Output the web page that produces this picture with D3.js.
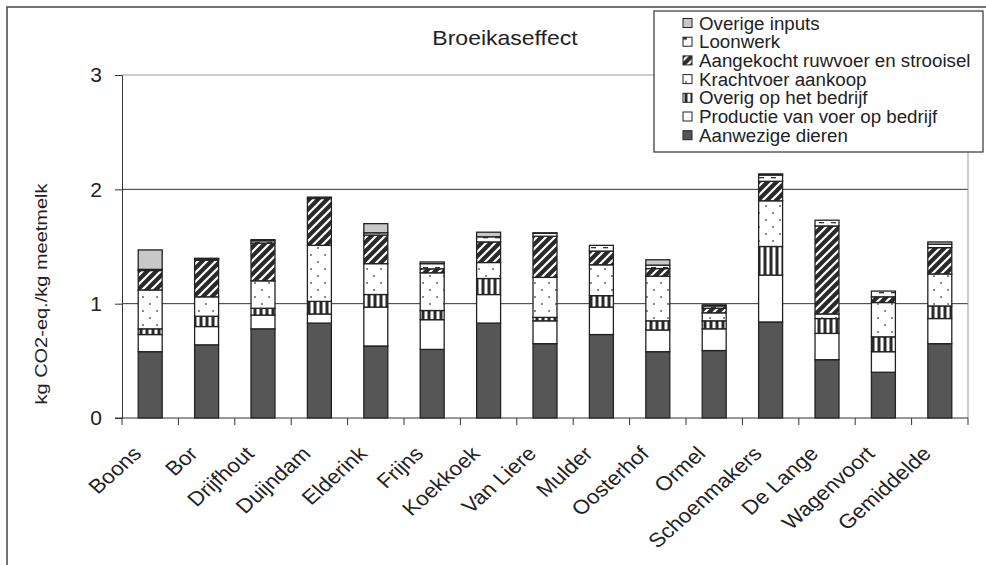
<!DOCTYPE html>
<html>
<head>
<meta charset="utf-8">
<script src="https://cdn.jsdelivr.net/npm/d3@7"></script>
<style>
html,body{margin:0;padding:0;background:#fff;}
svg{display:block;font-family:"Liberation Sans",Arial,sans-serif;}
</style>
</head>
<body>
<svg id="chart" width="986" height="565"></svg>
<script>
const categories = ["Boons","Bor","Drijfhout","Duijndam","Elderink","Frijns","Koekkoek","Van Liere","Mulder","Oosterhof","Ormel","Schoenmakers","De Lange","Wagenvoort","Gemiddelde"];
const aanwezigeDieren   = [0.58,0.64,0.78,0.83,0.63,0.60,0.83,0.65,0.73,0.58,0.59,0.84,0.51,0.40,0.65];
const productieVoer     = [0.15,0.16,0.12,0.08,0.34,0.26,0.25,0.20,0.24,0.19,0.19,0.41,0.23,0.18,0.22];
const overigBedrijf     = [0.05,0.09,0.06,0.11,0.11,0.08,0.14,0.03,0.10,0.08,0.07,0.25,0.13,0.13,0.11];
const krachtvoer        = [0.34,0.17,0.24,0.49,0.27,0.33,0.14,0.35,0.27,0.39,0.07,0.40,0.04,0.30,0.28];
const ruwvoer           = [0.17,0.32,0.33,0.41,0.25,0.035,0.18,0.36,0.12,0.067,0.04,0.17,0.77,0.05,0.23];
const loonwerk          = [0.01,0.012,0.02,0.012,0.02,0.045,0.045,0.025,0.05,0.03,0.02,0.055,0.05,0.05,0.03];
const overigeInputs     = [0.17,0.005,0.01,0,0.08,0.015,0.04,0.005,0,0.047,0.01,0.01,0,0,0.02];
const seriesNames = ["Aanwezige dieren","Productie van voer op bedrijf","Overig op het bedrijf","Krachtvoer aankoop","Aangekocht ruwvoer en strooisel","Loonwerk","Overige inputs"];
const yTicks = [0,1,2,3];
const titleText = "Broeikaseffect";
const yLabel = "kg CO2-eq./kg meetmelk";

const seriesValues = [aanwezigeDieren, productieVoer, overigBedrijf, krachtvoer, ruwvoer, loonwerk, overigeInputs];
const rows = categories.map((c,i)=>{
  const r = {cat:c};
  seriesNames.forEach((s,k)=>{ r[s] = seriesValues[k][i]; });
  return r;
});

const svg = d3.select("#chart");
const defs = svg.append("defs");
const ph = defs.append("pattern").attr("id","p-hatch").attr("patternUnits","userSpaceOnUse").attr("width",9).attr("height",9);
ph.append("rect").attr("width",9).attr("height",9).attr("fill","#2a2a2a");
ph.append("path").attr("d","M-2,2 L2,-2 M0,9 L9,0 M7,11 L11,7").attr("stroke","#fff").attr("stroke-width",2.2);
const pv = defs.append("pattern").attr("id","p-vert").attr("patternUnits","userSpaceOnUse").attr("width",6).attr("height",6);
pv.append("rect").attr("width",6).attr("height",6).attr("fill","#fff");
pv.append("rect").attr("x",1.5).attr("width",3).attr("height",6).attr("fill","#2a2a2a");
const pd = defs.append("pattern").attr("id","p-dots").attr("patternUnits","userSpaceOnUse").attr("width",14).attr("height",14);
pd.append("rect").attr("width",14).attr("height",14).attr("fill","#fff");
pd.append("circle").attr("cx",3).attr("cy",3).attr("r",0.9).attr("fill","#555");
pd.append("circle").attr("cx",10).attr("cy",10).attr("r",0.9).attr("fill","#555");
const pl = defs.append("pattern").attr("id","p-loon").attr("patternUnits","userSpaceOnUse").attr("width",12).attr("height",5);
pl.append("rect").attr("width",12).attr("height",5).attr("fill","#fff");
pl.append("rect").attr("x",3).attr("y",2).attr("width",5).attr("height",1.3).attr("fill","#333");
const pli = defs.append("pattern").attr("id","p-loon-icon").attr("patternUnits","objectBoundingBox").attr("width",1).attr("height",1);
pli.append("rect").attr("width",9).attr("height",9).attr("fill","#fff");
pli.append("rect").attr("x",0).attr("y",0).attr("width",4).attr("height",2.5).attr("fill","#333");

const fills = {
  "Aanwezige dieren":"#565656",
  "Productie van voer op bedrijf":"#ffffff",
  "Overig op het bedrijf":"url(#p-vert)",
  "Krachtvoer aankoop":"url(#p-dots)",
  "Aangekocht ruwvoer en strooisel":"url(#p-hatch)",
  "Loonwerk":"url(#p-loon)",
  "Overige inputs":"#c8c8c8"
};

svg.append("rect").attr("x",7).attr("y",7).attr("width",1000).attr("height",600)
  .attr("fill","none").attr("stroke","#444").attr("stroke-width",1.5);

const pLeft=122, pRight=968, pTop=75, pBottom=418;
const y = d3.scaleLinear().domain([0,3]).range([pBottom, pTop]);
const x = d3.scaleBand().domain(categories).range([pLeft,pRight]).paddingInner(0.575).paddingOuter(0.2875);

svg.append("g").selectAll("line").data(yTicks.filter(t=>t>0)).join("line")
  .attr("x1",pLeft).attr("x2",pRight).attr("y1",d=>y(d)).attr("y2",d=>y(d))
  .attr("stroke",d=>d===3?"#999":"#333").attr("stroke-width",1);
svg.append("line").attr("x1",pRight).attr("x2",pRight).attr("y1",pTop).attr("y2",pBottom)
  .attr("stroke","#999").attr("stroke-width",1);

const stacked = d3.stack().keys(seriesNames)(rows);
svg.append("g").selectAll("g").data(stacked).join("g")
  .attr("fill",d=>fills[d.key])
  .selectAll("rect").data(d=>d.filter(p=>p[1]-p[0]>0)).join("rect")
  .attr("x",d=>x(d.data.cat)).attr("width",x.bandwidth())
  .attr("y",d=>y(d[1])).attr("height",d=>y(d[0])-y(d[1]))
  .attr("stroke","#222").attr("stroke-width",1.3);

const yAxis = svg.append("g").attr("transform",`translate(${pLeft},0)`)
  .call(d3.axisLeft(y).tickValues(yTicks).tickFormat(d3.format("d")).tickSize(7).tickPadding(13));
yAxis.select(".domain").attr("stroke","#333");
yAxis.selectAll(".tick line").attr("stroke","#333");
yAxis.selectAll("text").attr("font-size",21).attr("fill","#222").attr("font-family","Liberation Sans, Arial, sans-serif");

const step = x.step();
const bounds = d3.range(categories.length+1).map(i=>pLeft+i*step);
svg.append("line").attr("x1",pLeft-7).attr("x2",pRight).attr("y1",pBottom).attr("y2",pBottom).attr("stroke","#333");
svg.append("g").selectAll("line").data(bounds).join("line")
  .attr("x1",d=>d).attr("x2",d=>d).attr("y1",pBottom).attr("y2",pBottom+7).attr("stroke","#333");

svg.append("g").selectAll("text").data(categories).join("text")
  .attr("transform",d=>`translate(${x(d)+x.bandwidth()/2-7.5},455) scale(1.12,1) rotate(-45)`)
  .attr("text-anchor","end").attr("font-size",20).attr("fill","#222").text(d=>d);

svg.append("text").attr("transform","translate(47,294) scale(0.85,1) rotate(-90)")
  .attr("text-anchor","middle").attr("font-size",20).attr("fill","#222").text(yLabel);

svg.append("text").attr("transform","translate(505,45) scale(1.15,1)")
  .attr("text-anchor","middle").attr("font-size",20).attr("fill","#222").text(titleText);

const lg = svg.append("g");
lg.append("rect").attr("x",654).attr("y",11).attr("width",329).attr("height",141)
  .attr("fill","#fff").attr("stroke","#333").attr("stroke-width",1.2);
const legendOrder = seriesNames.slice().reverse();
const li = lg.selectAll("g.li").data(legendOrder).join("g").attr("class","li")
  .attr("transform",(d,i)=>`translate(683,${23+i*18.7})`);
li.append("rect").attr("x",0).attr("y",-4.5).attr("width",9).attr("height",9)
  .attr("fill",d=>d==="Loonwerk"?"url(#p-loon-icon)":fills[d]).attr("stroke","#222").attr("stroke-width",1);
li.append("text").attr("transform","translate(16,6.5) scale(1.04,1)")
  .attr("font-size",18).attr("fill","#222").text(d=>d);
</script>
</body>
</html>
